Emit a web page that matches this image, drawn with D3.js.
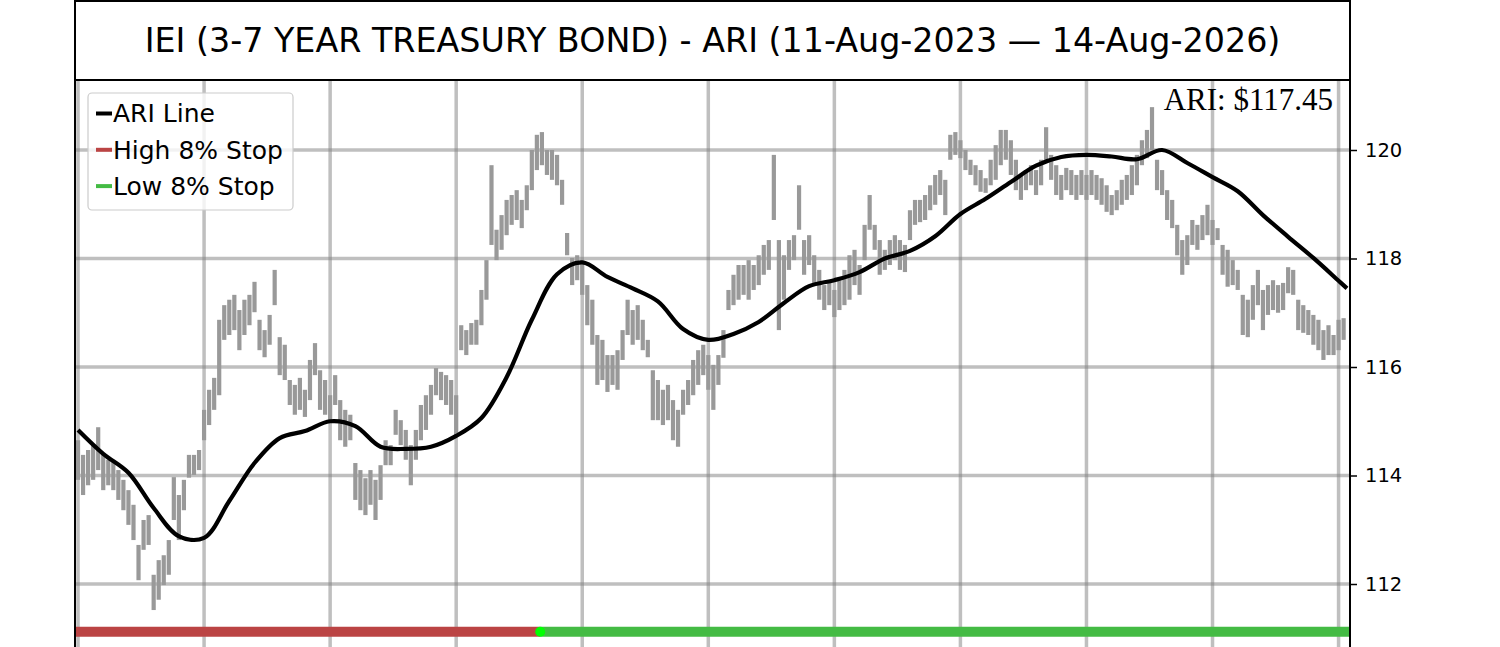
<!DOCTYPE html>
<html><head><meta charset="utf-8">
<script src="https://cdn.jsdelivr.net/npm/d3@7"></script>
<style>body{margin:0;background:#fff} svg{display:block}</style>
</head><body><svg id="chart" width="1500" height="647"></svg>
<script>
// ---------------- DATA ----------------
const titleText = "IEI (3-7 YEAR TREASURY BOND) - ARI (11-Aug-2023 \u2014 14-Aug-2026)";
const ariLabel = "ARI: $117.45";
const legendLabels = ["ARI Line", "High 8% Stop", "Low 8% Stop"];
const yTicks = [112, 114, 116, 118, 120];
const xGridDays = [0, 75, 150, 225, 300, 375, 450, 525, 600, 675, 750];
const barStep = 3; // trading days between plotted range bars

const barHigh = [
114.65,114.38,114.47,114.56,114.89,114.38,114.29,114.25,114.10,113.92,
113.73,113.46,112.72,113.18,113.27,112.17,112.44,112.53,112.81,113.97,
113.64,113.92,114.38,114.38,114.47,115.21,115.58,115.80,116.87,117.14,
117.24,117.33,117.05,117.24,117.33,117.57,116.87,116.68,116.96,117.79,
116.55,116.41,115.76,115.67,115.80,115.58,116.13,116.44,115.94,115.76,
115.48,115.85,115.39,115.21,115.12,114.23,114.10,113.95,114.10,113.92,
114.19,114.65,114.56,115.21,115.02,114.84,114.56,114.84,115.30,115.48,
115.67,115.98,115.91,115.85,115.76,115.48,116.77,116.68,116.81,116.87,
117.42,117.97,119.72,118.53,118.80,119.08,119.17,119.26,119.08,119.35,
120.00,120.28,120.33,120.00,120.00,119.91,119.45,118.47,118.01,118.06,
117.97,117.51,117.24,116.59,116.50,116.22,116.22,116.31,116.68,117.24,
117.05,117.14,116.87,116.50,115.94,115.76,115.58,115.67,115.39,115.21,
115.58,115.76,116.13,116.31,116.41,116.22,116.04,116.22,116.68,117.42,
117.70,117.88,117.88,117.97,117.88,118.06,118.25,118.34,119.91,118.34,
118.06,118.34,118.43,119.35,118.34,118.43,118.06,117.79,117.51,117.60,
117.42,117.60,117.79,118.06,118.16,117.88,118.62,119.17,118.62,118.34,
118.16,118.34,118.43,118.34,118.25,118.89,119.08,119.08,119.17,119.35,
119.54,119.63,119.45,120.28,120.33,120.18,120.00,119.82,119.72,119.63,
119.48,119.82,120.09,120.37,120.37,120.18,119.82,119.54,119.63,119.72,
119.63,119.82,120.42,119.91,119.72,119.54,119.67,119.63,119.54,119.63,
119.54,119.63,119.54,119.48,119.35,119.17,119.26,119.45,119.54,119.72,
119.91,120.18,120.37,120.79,119.82,119.63,119.26,119.08,118.62,118.34,
118.43,118.71,118.62,118.80,118.99,118.71,118.56,118.25,118.16,117.97,
117.79,117.33,117.24,117.51,117.79,117.42,117.51,117.60,117.51,117.55,
117.84,117.79,117.24,117.14,117.05,116.96,116.87,116.68,116.77,116.59,
116.87,116.90
];
const barLow = [
113.92,113.64,113.82,113.92,114.10,113.73,113.82,113.73,113.55,113.36,
113.09,112.81,112.07,112.63,112.72,111.52,111.71,111.98,112.17,113.18,
112.81,113.36,113.96,114.01,114.10,114.65,114.93,115.21,115.48,116.50,
116.59,116.68,116.31,116.59,116.77,117.01,116.31,116.18,116.41,117.14,
115.85,115.76,115.30,115.12,115.21,115.08,115.39,115.85,115.21,115.12,
114.97,115.30,114.65,114.53,114.65,113.55,113.36,113.27,113.46,113.18,
113.55,114.19,114.19,114.75,114.56,114.29,113.82,114.29,114.65,114.84,
115.12,115.48,115.39,115.30,115.12,114.71,116.31,116.22,116.41,116.41,
116.77,117.24,118.25,117.97,118.16,118.43,118.62,118.71,118.56,118.89,
119.26,119.63,119.72,119.54,119.45,119.35,118.99,118.06,117.51,117.60,
117.33,116.77,116.41,115.67,115.76,115.54,115.67,115.58,116.13,116.59,
116.41,116.50,116.31,116.18,115.02,115.02,114.93,115.02,114.65,114.53,
115.12,115.30,115.48,115.67,115.85,115.58,115.21,115.67,116.17,117.05,
117.14,117.24,117.33,117.24,117.42,117.51,117.70,117.79,118.71,116.68,
117.24,117.79,117.97,118.53,117.70,117.88,117.51,117.24,117.05,117.14,
116.92,117.05,117.14,117.24,117.51,117.33,117.97,118.53,118.16,117.70,
117.79,117.88,117.97,117.79,117.75,118.34,118.62,118.67,118.71,118.89,
118.99,119.17,118.80,119.82,119.91,119.85,119.63,119.54,119.35,119.23,
119.21,119.35,119.45,119.72,119.82,119.54,119.26,119.08,119.26,119.35,
119.17,119.35,119.82,119.45,119.17,119.08,119.26,119.17,119.08,119.17,
119.08,119.17,119.08,118.99,118.86,118.80,118.89,118.99,119.08,119.17,
119.35,119.72,119.85,120.00,119.26,119.17,118.71,118.56,118.06,117.70,
117.88,118.25,118.16,118.34,118.43,118.25,118.34,117.70,117.48,117.51,
117.42,116.59,116.55,116.87,117.14,116.68,116.96,117.05,117.00,117.05,
117.36,117.33,116.68,116.63,116.59,116.41,116.31,116.13,116.22,116.22,
116.31,116.50
];

const ariDays = [0,15,30,45,60,75,90,105,120,135,150,165,180,195,210,225,240,255,270,285,
  300,315,330,345,360,375,390,405,420,435,450,465,480,495,510,525,540,555,570,585,
  600,615,630,645,660,675,690,705,720,735,750,755];
const ariValues = [114.84,114.40,114.05,113.40,112.88,112.85,113.53,114.23,114.69,114.82,
  115.00,114.91,114.53,114.49,114.53,114.73,115.06,115.81,116.87,117.71,
  117.93,117.66,117.45,117.21,116.70,116.50,116.61,116.83,117.18,117.49,
  117.60,117.75,118.00,118.14,118.41,118.82,119.10,119.41,119.71,119.87,
  119.91,119.88,119.83,120.00,119.76,119.50,119.24,118.80,118.40,118.01,
  117.59,117.45];

const stopKinds = ["high", "low"];
const stopStartDays = [0, 275];
const stopEndDays = [275, 755];
const stopLevel = 111.12;
const stopFlipDay = 275;

// ---------------- LAYOUT ----------------
const L = 75, R = 1350, T = 80, B = 700;
const colors = { ari: "#000000", high: "#bb4444", low: "#44bb44", bar: "#999999" };
const svg = d3.select("#chart");

const x = d3.scaleLinear().domain([-1.8, 756.8]).range([L, R]);
const y = d3.scaleLinear().domain([112, 120]).range([584, 150]);

svg.append("defs").append("clipPath").attr("id", "plotclip")
  .append("rect").attr("x", L).attr("y", T).attr("width", R - L).attr("height", B - T);

const plot = svg.append("g").attr("clip-path", "url(#plotclip)");

// grid
plot.selectAll(".hg").data(yTicks).join("line")
  .attr("x1", L).attr("x2", R).attr("y1", d => y(d)).attr("y2", d => y(d))
  .attr("stroke", "#808080").attr("stroke-opacity", 0.5).attr("stroke-width", 3.5);
plot.selectAll(".vg").data(xGridDays).join("line")
  .attr("x1", d => x(d)).attr("x2", d => x(d)).attr("y1", T).attr("y2", B)
  .attr("stroke", "#808080").attr("stroke-opacity", 0.5).attr("stroke-width", 3.5);

// price range bars
const bars = barHigh.map((h, i) => ({ day: i * barStep, hi: h, lo: barLow[i] }));
plot.selectAll(".bar").data(bars).join("rect")
  .attr("x", d => x(d.day) - 2.1).attr("width", 4.2)
  .attr("y", d => y(d.hi)).attr("height", d => Math.max(2, y(d.lo) - y(d.hi)))
  .attr("fill", colors.bar);

// ARI line
const ariData = ariDays.map((d, i) => [d, ariValues[i]]);
plot.append("path").datum(ariData)
  .attr("d", d3.line().x(d => x(d[0])).y(d => y(d[1])).curve(d3.curveCatmullRom.alpha(0.5)))
  .attr("fill", "none").attr("stroke", colors.ari).attr("stroke-width", 4.2)
  .attr("stroke-linejoin", "round");

// stop bars
const stops = stopKinds.map((k, i) => ({ kind: k, a: stopStartDays[i], b: stopEndDays[i] }));
plot.selectAll(".stop").data(stops).join("line")
  .attr("x1", (d, i) => i === 0 ? L : x(d.a))
  .attr("x2", (d, i) => i === stops.length - 1 ? R : x(d.b))
  .attr("y1", y(stopLevel)).attr("y2", y(stopLevel))
  .attr("stroke", d => colors[d.kind]).attr("stroke-width", 10);
plot.append("circle").attr("cx", x(stopFlipDay)).attr("cy", y(stopLevel)).attr("r", 5)
  .attr("fill", "#00ff00");

// spines
svg.append("line").attr("x1", L).attr("x2", L).attr("y1", T).attr("y2", 647)
  .attr("stroke", "#000").attr("stroke-width", 2);
svg.append("line").attr("x1", R).attr("x2", R).attr("y1", T).attr("y2", 647)
  .attr("stroke", "#000").attr("stroke-width", 2);

// title box
svg.append("rect").attr("x", L).attr("y", 1).attr("width", R - L).attr("height", T - 1)
  .attr("fill", "none").attr("stroke", "#000").attr("stroke-width", 2);
const title = svg.append("text").attr("x", (L + R) / 2).attr("y", 52)
  .attr("text-anchor", "middle").attr("font-family", "DejaVu Sans").attr("font-size", 30)
  .attr("fill", "#000").text(titleText);
const tw = title.node().getComputedTextLength();
title.attr("font-size", 30 * 1136 / tw);

// right axis
const axis = svg.append("g").attr("transform", `translate(${R},0)`)
  .call(d3.axisRight(y).tickValues(yTicks).tickSize(7).tickPadding(8).tickFormat(d3.format("d")));
axis.select(".domain").remove();
axis.selectAll(".tick line").attr("stroke", "#000").attr("stroke-width", 1.5);
axis.selectAll(".tick text").attr("font-family", "DejaVu Sans").attr("font-size", 19.5).attr("fill", "#000");

// legend
const lg = svg.append("g");
lg.append("rect").attr("x", 88).attr("y", 93).attr("width", 205).attr("height", 117)
  .attr("rx", 4).attr("fill", "#fff").attr("fill-opacity", 0.8)
  .attr("stroke", "#cccccc").attr("stroke-width", 1.2);
const legendColors = [colors.ari, colors.high, colors.low];
legendLabels.forEach((lab, i) => {
  const cy = 113.5 + i * 36.3;
  lg.append("line").attr("x1", 96).attr("x2", 112).attr("y1", cy).attr("y2", cy)
    .attr("stroke", legendColors[i]).attr("stroke-width", 4);
  lg.append("text").attr("x", 113).attr("y", cy + 8.8).attr("font-family", "DejaVu Sans")
    .attr("font-size", 25).attr("fill", "#000").text(lab);
});

// ARI value label
svg.append("text").attr("x", 1333).attr("y", 110).attr("text-anchor", "end")
  .attr("font-family", "Liberation Serif").attr("font-size", 31).attr("fill", "#000")
  .text(ariLabel);
</script>
</body></html>
